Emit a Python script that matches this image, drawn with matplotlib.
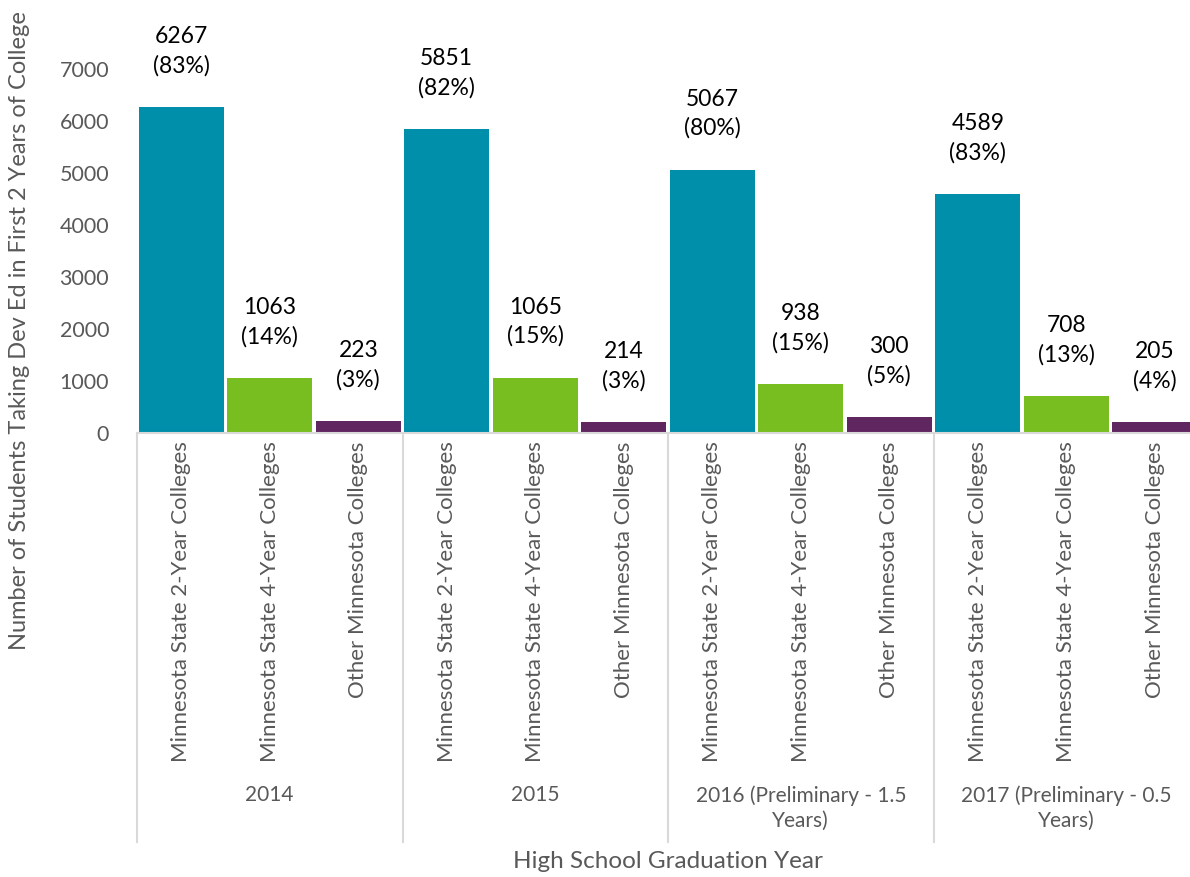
import matplotlib
matplotlib.use("Agg")
import matplotlib.pyplot as plt
import matplotlib.transforms as mtransforms

plt.rcParams['font.family'] = ['Lato', 'DejaVu Sans']

years = ["2014", "2015", "2016 (Preliminary - 1.5\nYears)", "2017 (Preliminary - 0.5\nYears)"]
colleges = ["Minnesota State 2-Year Colleges", "Minnesota State 4-Year Colleges", "Other Minnesota Colleges"]
counts = [
    [6267, 1063, 223],
    [5851, 1065, 214],
    [5067, 938, 300],
    [4589, 708, 205],
]
pcts = [
    [83, 14, 3],
    [82, 15, 3],
    [80, 15, 5],
    [83, 13, 4],
]
colors = ["#008FAA", "#78BE20", "#5F2660"]

W, H = 1190, 877
fig = plt.figure(figsize=(W / 100, H / 100), dpi=100)
ax = fig.add_axes([137 / W, (H - 433) / H, 1062 / W, 416 / H])

gray = "#595959"
line_gray = "#D9D9D9"

xs, labels = [], []
for g, yr in enumerate(years):
    for c, col in enumerate(colleges):
        x = g * len(colleges) + c
        xs.append(x)
        labels.append(col)
        ax.bar(x, counts[g][c], width=0.96, color=colors[c])
        ax.annotate(f"{counts[g][c]}\n({pcts[g][c]}%)", (x, counts[g][c]),
                    xytext=(0, 22), textcoords="offset points",
                    ha="center", va="bottom", fontsize=16.5, color="black",
                    linespacing=1.45)

ax.set_xlim(-0.5, len(xs) - 0.5)
ax.set_ylim(0, 8000)
ax.set_yticks(range(0, 8000, 1000))
ax.tick_params(axis="y", length=0, labelsize=15.5, labelcolor=gray, pad=20)
ax.set_xticks(xs)
ax.set_xticklabels(labels, rotation=90, fontsize=16, color=gray)
ax.tick_params(axis="x", length=0, pad=6)
for s in ["top", "right", "left"]:
    ax.spines[s].set_visible(False)
ax.spines["bottom"].set_color(line_gray)
ax.spines["bottom"].set_linewidth(1.5)

trans = mtransforms.blended_transform_factory(ax.transData, fig.transFigure)
n = len(colleges)
for g in range(len(years) + 1):
    xb = g * n - 0.5
    ax.plot([xb, xb], [(H - 433) / H, (H - 842) / H], color=line_gray, lw=1.5,
            transform=trans, clip_on=False)
for g, yr in enumerate(years):
    ax.text(g * n + 1, (H - 785) / H, yr, transform=trans, ha="center", va="top",
            fontsize=15, color=gray, linespacing=1.35)

fig.text(668 / W, 1 - 862 / H, "High School Graduation Year", ha="center", va="center",
         fontsize=17.5, color=gray)
fig.text(20 / W, 1 - 331 / H, "Number of Students Taking Dev Ed in First 2 Years of College",
         rotation=90, ha="center", va="center", fontsize=17, color=gray)

fig.savefig("out.png", dpi=100)
